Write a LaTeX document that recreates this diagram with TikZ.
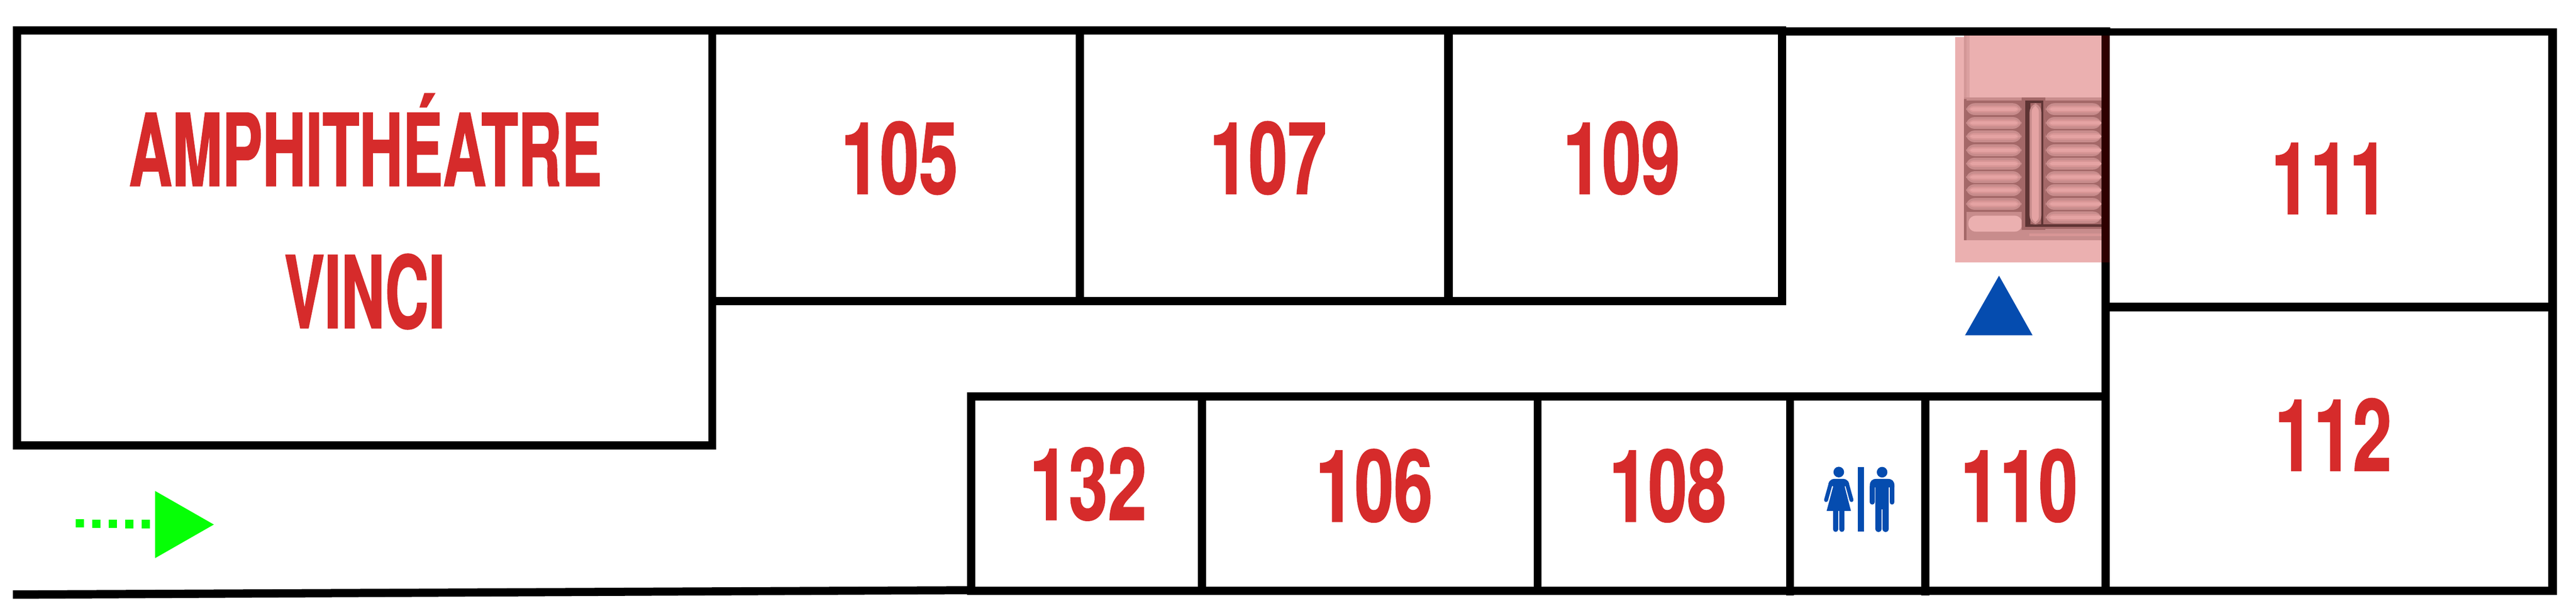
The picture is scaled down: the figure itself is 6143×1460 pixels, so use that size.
\documentclass[tikz,border=0pt]{standalone}
\usepackage{fontspec}
\newfontfamily\roomfont{TeX Gyre Heros}[FakeStretch=0.70,FakeBold=0.8]
\newfontfamily\amphifont{TeX Gyre Heros}[FakeStretch=0.60,FakeBold=1.0]
\definecolor{roomred}{HTML}{D62B2B}
\definecolor{signblue}{HTML}{054CAF}
\definecolor{arrowgreen}{HTML}{06FF06}
\definecolor{stairpink}{HTML}{EBB0B0}
\definecolor{stairdark}{HTML}{A46868}
\definecolor{stairmid}{HTML}{C88C8C}
\definecolor{stairhalo}{HTML}{D89696}
\definecolor{stairlight}{HTML}{E5A3A3}
\definecolor{stairline}{HTML}{5E3434}
\tikzset{
  wall/.style={fill=black},
  roomlabel/.style={anchor=base,inner sep=0pt,outer sep=0pt,text=roomred,font=\roomfont\bfseries\fontsize{68}{68}\selectfont},
  amphilabel/.style={anchor=base,inner sep=0pt,outer sep=0pt,text=roomred,font=\amphifont\bfseries\fontsize{68}{68}\selectfont},
  iconfill/.style={fill=signblue},
  limb/.style={draw=signblue,line cap=round}
}
\begin{document}
\begin{tikzpicture}[x=0.1mm,y=-0.1mm]
\useasboundingbox[fill=white] (0,0) rectangle (6143,1460);
% staircase
\fill[stairpink] (4662,89) rectangle (5012,625);
\fill[stairpink] (4683,84) rectangle (5012,89);
\fill[stairmid!70!stairpink] (4683,84) rectangle (4690,236);
\fill[stairmid!45!stairpink] (4690,84) rectangle (4697,232);
\fill[stairmid] (4683,232) rectangle (5012,573);
\fill[stairdark] (4683,236) rectangle (4689,573);
\fill[stairdark] (4683,240) rectangle (5012,536);
\foreach \yy in {260,293,325,358,390,422,453,486}{
  \fill[stairmid,rounded corners=6] (4688,\yy-14) rectangle (4821,\yy+14);
  \fill[stairhalo,rounded corners=4] (4693,\yy-8) rectangle (4817,\yy+8);
  \fill[stairlight,rounded corners=2] (4698,\yy-4) rectangle (4812,\yy+4);
}
\foreach \yy in {260,293,325,358,390,422,453,486,518}{
  \fill[stairmid,rounded corners=6] (4878,\yy-14) rectangle (5012,\yy+14);
  \fill[stairhalo,rounded corners=4] (4883,\yy-8) rectangle (5012,\yy+8);
  \fill[stairlight,rounded corners=2] (4888,\yy-4) rectangle (5012,\yy+4);
}
\fill[stairmid] (4689,505) rectangle (4825,573);
\fill[stairpink,rounded corners=5] (4694,514) rectangle (4822,552);
\fill[stairmid] (4830,546) rectangle (5012,573);
\fill[stairhalo] (4840,556) rectangle (5012,563);
\fill[stairdark] (4821,232) rectangle (4878,548);
\fill[stairdark] (4821,534) rectangle (5012,546);
\fill[stairline] (4829,240) rectangle (4842,540);
\fill[stairline] (4829,240) rectangle (4873,246);
\fill[stairline] (4868,240) rectangle (4873,540);
\fill[stairline] (4829,535) rectangle (5012,540);
\fill[stairmid,rounded corners=6] (4840,246) rectangle (4868,535);
\fill[stairlight,rounded corners=4] (4845,252) rectangle (4862,530);
% walls: amphitheatre
\fill[wall] (31,63) rectangle (1708,82);
\fill[wall] (31,63) rectangle (50,1071);
\fill[wall] (1689,63) rectangle (1708,1071);
\fill[wall] (31,1052) rectangle (1708,1071);
% walls: upper rooms
\fill[wall] (1689,63) rectangle (4259,82);
\fill[wall] (1689,708) rectangle (4259,727);
\fill[wall] (2565,63) rectangle (2585,727);
\fill[wall] (3444,63) rectangle (3464,727);
\fill[wall] (4240,63) rectangle (4259,727);
\fill[wall] (4259,65) rectangle (5032,85);
% walls: lower rooms
\fill[wall] (2306,935) rectangle (5031,955);
\fill[wall] (2306,1398) rectangle (5031,1418);
\fill[wall] (2306,935) rectangle (2326,1418);
\fill[wall] (2856,935) rectangle (2876,1418);
\fill[wall] (3657,935) rectangle (3676,1418);
\fill[wall] (4259,935) rectangle (4278,1419);
\fill[wall] (4582,935) rectangle (4601,1419);
\fill[wall] (31,1407) -- (2306,1397) -- (2306,1416) -- (31,1427) -- cycle;
% walls: right block
\fill[wall] (5012,625) rectangle (5031,1418);
\fill[black!82!red] (5011,85) rectangle (5031,625);
\fill[wall] (5031,67) rectangle (6097,85);
\fill[wall] (6077,67) rectangle (6097,1418);
\fill[wall] (5012,721) rectangle (6097,742);
\fill[wall] (5012,1398) rectangle (6097,1418);
% labels
\node[amphilabel] (amphi) at (871,443) {AMPHITHÉATRE};
\node[amphilabel] (vinci) at (870,782) {VINCI};
\node[roomlabel] (r105) at (2145,462) {105};
\node[roomlabel] (r107) at (3024,462) {107};
\node[roomlabel] (r109) at (3867,462) {109};
\node[roomlabel] (r132) at (2595,1239) {132};
\node[roomlabel] (r106) at (3277,1243) {106};
\node[roomlabel] (r108) at (3977,1243) {108};
\node[roomlabel] (r110) at (4815,1243) {110};
\node[roomlabel] (r111) at (5556,510) {111};
\node[roomlabel] (r112) at (5564,1122) {112};
% stair marker
\fill[signblue] (4767,657) -- (4847,799) -- (4686,799) -- cycle;
% entry arrow
\foreach \xa/\ya in {180/1237,220/1238,259/1238,298/1239,338/1239}{
  \fill[arrowgreen] (\xa,\ya) rectangle (\xa+20,\ya+20);
}
\fill[arrowgreen] (370,1170) -- (510,1250) -- (370,1330) -- cycle;
% toilets pictogram
\begin{scope}[shift={(420mm,-100mm)},x=0.03333mm,y=-0.03333mm]
  \fill[iconfill] (555,375) circle[radius=38];
  \fill[iconfill] (520,424) -- (590,424) .. controls (610,424) and (622,440) .. (630,460) -- (597,478) -- (642,653) -- (468,653) -- (515,478) -- (480,460) .. controls (488,440) and (500,424) .. (520,424) -- cycle;
  \draw[limb,line width=0.95mm] (499,450) -- (464,575);
  \draw[limb,line width=0.95mm] (611,450) -- (646,575);
  \draw[limb,line width=1.2mm] (532,653) -- (532,785);
  \draw[limb,line width=1.2mm] (578,653) -- (578,785);
  \fill[iconfill] (690,341) rectangle (736,802);
  \fill[iconfill] (865,376) circle[radius=38];
  \fill[iconfill] (777,485) -- (777,470) .. controls (777,440) and (795,424) .. (822,424) -- (908,424) .. controls (935,424) and (953,440) .. (953,470) -- (953,485) -- cycle;
  \draw[limb,line width=1.17mm] (794.5,480) -- (794.5,590);
  \draw[limb,line width=1.17mm] (935.5,480) -- (935.5,590);
  \fill[iconfill] (817,480) rectangle (913,640);
  \draw[limb,line width=1.5mm] (840,620) -- (840,781);
  \draw[limb,line width=1.5mm] (890,620) -- (890,781);
\end{scope}
\end{tikzpicture}
\end{document}
